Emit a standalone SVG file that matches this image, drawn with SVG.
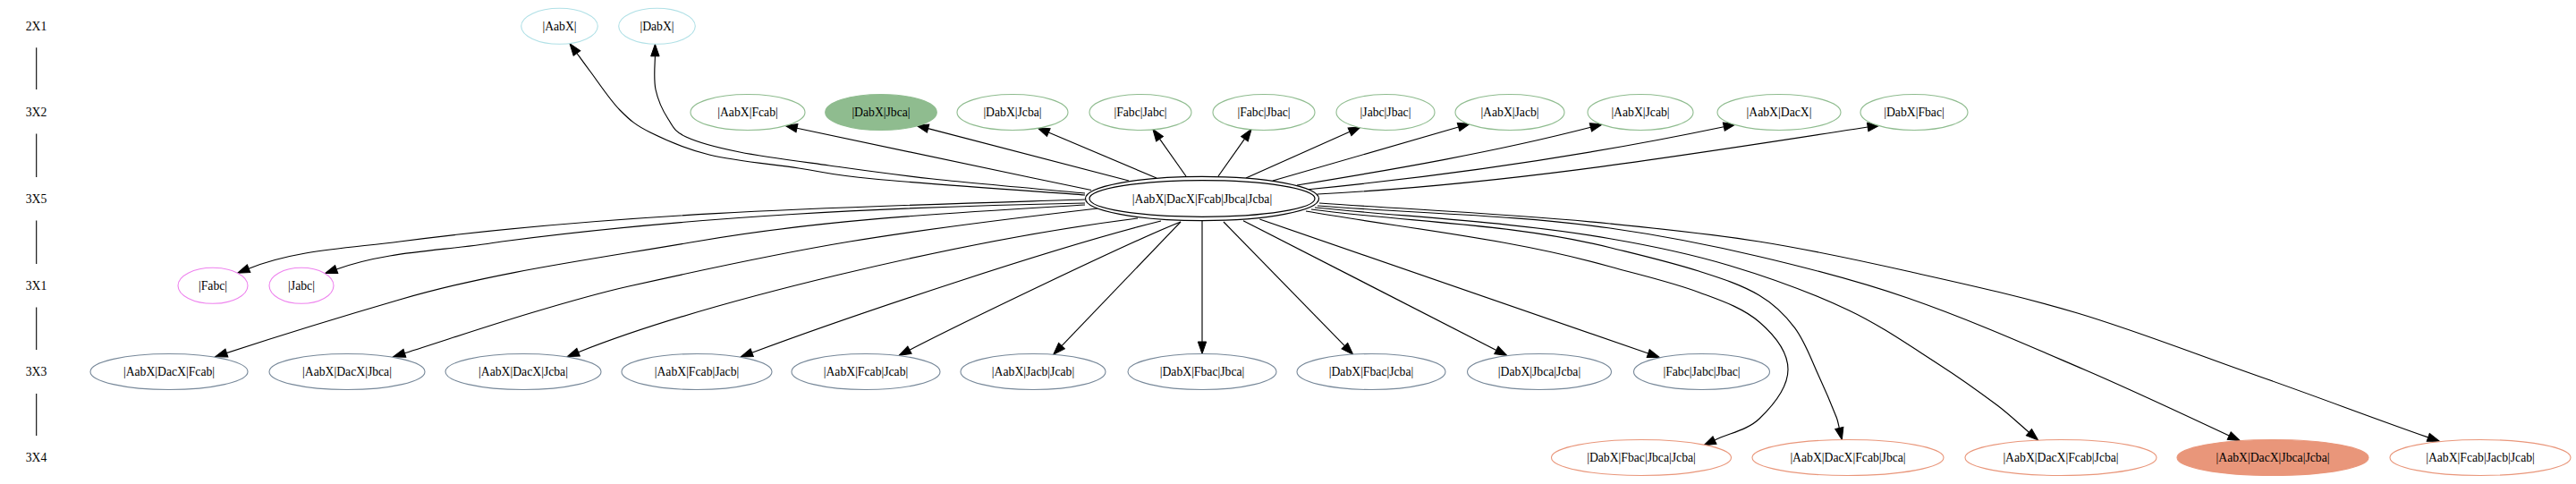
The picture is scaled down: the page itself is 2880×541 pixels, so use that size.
<svg xmlns="http://www.w3.org/2000/svg" width="2880" height="541" viewBox="0 0 2880 541">
<style>
text{font-family:"Liberation Serif","Times New Roman",serif;font-size:13.7px;text-anchor:middle;fill:#000}
.e{fill:none;stroke:#000;stroke-width:1.15}
.rl{stroke:#000;stroke-width:1.1}
.c21{fill:#fff;stroke:#b0e0e6;stroke-width:1.1}
.c32{fill:#fff;stroke:#8fbc8f;stroke-width:1.1}
.c32f{fill:#8fbc8f;stroke:#8fbc8f;stroke-width:1.1}
.c31{fill:#fff;stroke:#ee82ee;stroke-width:1.1}
.c33{fill:#fff;stroke:#778899;stroke-width:1.1}
.c34{fill:#fff;stroke:#e9967a;stroke-width:1.1}
.c34f{fill:#e9967a;stroke:#e9967a;stroke-width:1.1}
.c35{fill:#fff;stroke:#000;stroke-width:1.2}
</style>
<defs>
<marker id="ah" markerWidth="14" markerHeight="10" refX="0" refY="5" orient="auto" markerUnits="userSpaceOnUse" style="overflow:visible">
<path d="M0,0.3 L13.5,5 L0,9.7 z" fill="#000" stroke="#000" stroke-width="1"/>
</marker>
</defs>
<rect x="0" y="0" width="2880" height="541" fill="#fff"/>
<g id="ranks">
<text x="40.5" y="33.9">2X1</text>
<text x="40.5" y="130.1">3X2</text>
<text x="40.5" y="226.6">3X5</text>
<text x="40.5" y="323.9">3X1</text>
<text x="40.5" y="420.1">3X3</text>
<text x="40.5" y="516.1">3X4</text>
<line class="rl" x1="40.7" y1="53.3" x2="40.7" y2="100"/>
<line class="rl" x1="40.7" y1="149.5" x2="40.7" y2="198"/>
<line class="rl" x1="40.7" y1="246.5" x2="40.7" y2="295"/>
<line class="rl" x1="40.7" y1="343.5" x2="40.7" y2="391"/>
<line class="rl" x1="40.7" y1="440" x2="40.7" y2="487"/>
</g>
<g id="connectors">
<path class="e" marker-end="url(#ah)" d="M1213,218 C1173.7,215 1030.3,205 977,200 C923.7,195 923.7,192.5 893,188 C862.3,183.5 820.7,179.7 793,173 C765.3,166.3 743.7,156.3 727,148 C710.3,139.7 704.2,134.3 693,123 C681.8,111.7 668,90.6 660,80 C652,69.4 647.5,62.9 645,59.5"/>
<path class="e" marker-end="url(#ah)" d="M1213,216 C1184.7,213.3 1090.7,205.2 1043,200 C995.3,194.8 963,190 927,185 C891,180 853.7,175.3 827,170 C800.3,164.7 780.3,159.2 767,153 C753.7,146.8 752.7,141.8 747,133 C741.3,124.2 735.5,111.7 733,100 C730.5,88.3 732.4,69.2 732.4,62.8"/>
<path class="e" marker-end="url(#ah)" d="M1220,212.5 C1110,190 1000,166 891,143.2"/>
<path class="e" marker-end="url(#ah)" d="M1262,202 L1037.6,143.6"/>
<path class="e" marker-end="url(#ah)" d="M1293,199 L1172.3,148"/>
<path class="e" marker-end="url(#ah)" d="M1326,197 L1296.6,155.3"/>
<path class="e" marker-end="url(#ah)" d="M1362,197 L1391.4,155.3"/>
<path class="e" marker-end="url(#ah)" d="M1393,199 L1509,147.3"/>
<path class="e" marker-end="url(#ah)" d="M1423,202 L1630.6,142"/>
<path class="e" marker-end="url(#ah)" d="M1450,207 C1558.6,189.3 1672,169.8 1778.4,142.3"/>
<path class="e" marker-end="url(#ah)" d="M1460,212 C1619,196.3 1770.7,174.5 1927.3,141.7"/>
<path class="e" marker-end="url(#ah)" d="M1473,217 C1683,206 1880.7,174.1 2088.2,142"/>
<path class="e" marker-end="url(#ah)" d="M1213,223 C957.8,231 700.1,236.8 447,270 C390.4,277.4 331.2,279 278.1,300.2"/>
<path class="e" marker-end="url(#ah)" d="M1213,227 C995.2,231.4 776.6,241.7 561,270 C499.4,280.6 435,279.75 376.2,301"/>
<path class="e" marker-end="url(#ah)" d="M1213,229 C1067.6,237.7 921.5,245.2 778,270 C667.1,289.1 554.7,303.5 446.6,335 C381.4,354 317.9,373.5 253.4,394.5"/>
<path class="e" marker-end="url(#ah)" d="M1227,233 C1134.7,243.7 1041.9,254.7 950,270 C867.2,283.8 785,301.6 703,320 C665.9,328.3 629.4,339.1 593,350 C545.9,364.1 499.3,379.9 452.4,394.8"/>
<path class="e" marker-end="url(#ah)" d="M1272,244 C1073.6,268.8 786,338 646.6,393.7"/>
<path class="e" marker-end="url(#ah)" d="M1298,247 C1181.5,275.7 953,352.4 840.7,394.2"/>
<path class="e" marker-end="url(#ah)" d="M1320,248 C1264,270 1070,363.7 1017,391.2"/>
<path class="e" marker-end="url(#ah)" d="M1320,248 L1187,386.6"/>
<path class="e" marker-end="url(#ah)" d="M1344,246.6 L1344,382"/>
<path class="e" marker-end="url(#ah)" d="M1368,248 L1503.4,386.7"/>
<path class="e" marker-end="url(#ah)" d="M1390,246.7 L1672.9,391.4"/>
<path class="e" marker-end="url(#ah)" d="M1408.3,245 L1842.7,395"/>
<path class="e" marker-end="url(#ah)" d="M1460,236 C1573.5,255.6 1689.4,266.9 1800,298 C1833.3,307.4 1867.5,314.9 1900,327 C1923.3,335.7 1948.2,343.7 1967,360 C1982.6,373.5 1999,392.4 1999,413 C1999,434.2 1982.3,453.3 1967,468 C1953.7,480.8 1933.7,484 1917,492"/>
<path class="e" marker-end="url(#ah)" d="M1466,234 C1577.1,248.6 1691.2,249.8 1800,276.7 C1833.5,285 1867.2,292.8 1900,303.3 C1922.8,310.6 1946.1,317.8 1966.7,330 C1982.3,339.2 1995.9,352.1 2006.7,366.7 C2018.5,382.7 2024.9,402 2033.3,420 C2040.4,435.3 2047.1,451 2053.3,466.7 C2054.8,470.4 2055.4,474.5 2056.3,478.4"/>
<path class="e" marker-end="url(#ah)" d="M1470,232 C1580,243 1691.1,247.9 1800,266.7 C1844.8,274.4 1889.7,283.6 1933.3,296.7 C1978.8,310.3 2023.7,326.5 2066.7,346.7 C2101.9,363.3 2133.9,385.7 2166.7,406.7 C2189.5,421.3 2211.6,437 2233.3,453.3 C2245.5,462.5 2256.8,473.3 2268.4,483.2"/>
<path class="e" marker-end="url(#ah)" d="M1473,230 C1581.8,238.7 1691.8,239.7 1800,255 C1855.9,262.9 1911.7,273.8 1966.7,286.7 C2022.8,299.9 2078.8,314.4 2133.3,333.3 C2200.2,356.5 2264.9,385.1 2330,413 C2384.6,436.4 2438.4,461.9 2492.2,487"/>
<path class="e" marker-end="url(#ah)" d="M1475,227 C1583.2,234.6 1692.2,239.1 1800,250 C1855.6,255.6 1911.4,261.2 1966.7,270 C2022.6,278.9 2078.1,290.9 2133.3,303.3 C2196.7,317.5 2260.4,331.4 2322.7,350 C2390.6,370.3 2456.8,396.7 2523.7,420 C2587.6,442.3 2650.8,466.6 2714.7,488.9"/>
</g>
<g id="n_AabX"><ellipse class="c21" cx="625.5" cy="29.3" rx="42.8" ry="20"/><text x="625.5" y="33.9">|AabX|</text></g>
<g id="n_DabX"><ellipse class="c21" cx="734.5" cy="29.3" rx="42.8" ry="20"/><text x="734.5" y="33.9">|DabX|</text></g>
<g id="n_AabX_Fcab"><ellipse class="c32" cx="836" cy="125.5" rx="64" ry="20"/><text x="836" y="130.1">|AabX|Fcab|</text></g>
<g id="n_DabX_Jbca"><ellipse class="c32f" cx="985" cy="125.5" rx="62.3" ry="20"/><text x="985" y="130.1">|DabX|Jbca|</text></g>
<g id="n_DabX_Jcba"><ellipse class="c32" cx="1132" cy="125.5" rx="62" ry="20"/><text x="1132" y="130.1">|DabX|Jcba|</text></g>
<g id="n_Fabc_Jabc"><ellipse class="c32" cx="1275" cy="125.5" rx="57" ry="20"/><text x="1275" y="130.1">|Fabc|Jabc|</text></g>
<g id="n_Fabc_Jbac"><ellipse class="c32" cx="1413" cy="125.5" rx="57" ry="20"/><text x="1413" y="130.1">|Fabc|Jbac|</text></g>
<g id="n_Jabc_Jbac"><ellipse class="c32" cx="1549" cy="125.5" rx="55" ry="20"/><text x="1549" y="130.1">|Jabc|Jbac|</text></g>
<g id="n_AabX_Jacb"><ellipse class="c32" cx="1688" cy="125.5" rx="61" ry="20"/><text x="1688" y="130.1">|AabX|Jacb|</text></g>
<g id="n_AabX_Jcab"><ellipse class="c32" cx="1834" cy="125.5" rx="59" ry="20"/><text x="1834" y="130.1">|AabX|Jcab|</text></g>
<g id="n_AabX_DacX"><ellipse class="c32" cx="1989" cy="125.5" rx="69" ry="20"/><text x="1989" y="130.1">|AabX|DacX|</text></g>
<g id="n_DabX_Fbac"><ellipse class="c32" cx="2140" cy="125.5" rx="60" ry="20"/><text x="2140" y="130.1">|DabX|Fbac|</text></g>
<g id="n_center"><ellipse class="c35" cx="1344" cy="222" rx="130.5" ry="24.6"/><ellipse class="c35" cx="1344" cy="222" rx="126" ry="20.3"/><text x="1344" y="226.6">|AabX|DacX|Fcab|Jbca|Jcba|</text></g>
<g id="n_Fabc"><ellipse class="c31" cx="238" cy="319.3" rx="39" ry="20"/><text x="238" y="323.9">|Fabc|</text></g>
<g id="n_Jabc"><ellipse class="c31" cx="337" cy="319.3" rx="36" ry="20"/><text x="337" y="323.9">|Jabc|</text></g>
<g id="n_AabX_DacX_Fcab"><ellipse class="c33" cx="189" cy="415.5" rx="88" ry="20"/><text x="189" y="420.1">|AabX|DacX|Fcab|</text></g>
<g id="n_AabX_DacX_Jbca"><ellipse class="c33" cx="388" cy="415.5" rx="87" ry="20"/><text x="388" y="420.1">|AabX|DacX|Jbca|</text></g>
<g id="n_AabX_DacX_Jcba"><ellipse class="c33" cx="585" cy="415.5" rx="87" ry="20"/><text x="585" y="420.1">|AabX|DacX|Jcba|</text></g>
<g id="n_AabX_Fcab_Jacb"><ellipse class="c33" cx="779" cy="415.5" rx="84" ry="20"/><text x="779" y="420.1">|AabX|Fcab|Jacb|</text></g>
<g id="n_AabX_Fcab_Jcab"><ellipse class="c33" cx="968" cy="415.5" rx="83" ry="20"/><text x="968" y="420.1">|AabX|Fcab|Jcab|</text></g>
<g id="n_AabX_Jacb_Jcab"><ellipse class="c33" cx="1155" cy="415.5" rx="81" ry="20"/><text x="1155" y="420.1">|AabX|Jacb|Jcab|</text></g>
<g id="n_DabX_Fbac_Jbca"><ellipse class="c33" cx="1344" cy="415.5" rx="83" ry="20"/><text x="1344" y="420.1">|DabX|Fbac|Jbca|</text></g>
<g id="n_DabX_Fbac_Jcba"><ellipse class="c33" cx="1533" cy="415.5" rx="83" ry="20"/><text x="1533" y="420.1">|DabX|Fbac|Jcba|</text></g>
<g id="n_DabX_Jbca_Jcba"><ellipse class="c33" cx="1721" cy="415.5" rx="80.5" ry="20"/><text x="1721" y="420.1">|DabX|Jbca|Jcba|</text></g>
<g id="n_Fabc_Jabc_Jbac"><ellipse class="c33" cx="1902.5" cy="415.5" rx="76" ry="20"/><text x="1902.5" y="420.1">|Fabc|Jabc|Jbac|</text></g>
<g id="n_DabX_Fbac_Jbca_Jcba"><ellipse class="c34" cx="1835" cy="511.5" rx="100.5" ry="20"/><text x="1835" y="516.1">|DabX|Fbac|Jbca|Jcba|</text></g>
<g id="n_AabX_DacX_Fcab_Jbca"><ellipse class="c34" cx="2066" cy="511.5" rx="107" ry="20"/><text x="2066" y="516.1">|AabX|DacX|Fcab|Jbca|</text></g>
<g id="n_AabX_DacX_Fcab_Jcba"><ellipse class="c34" cx="2304" cy="511.5" rx="107" ry="20"/><text x="2304" y="516.1">|AabX|DacX|Fcab|Jcba|</text></g>
<g id="n_AabX_DacX_Jbca_Jcba"><ellipse class="c34f" cx="2541" cy="511.5" rx="107" ry="20"/><text x="2541" y="516.1">|AabX|DacX|Jbca|Jcba|</text></g>
<g id="n_AabX_Fcab_Jacb_Jcab"><ellipse class="c34" cx="2773" cy="511.5" rx="101" ry="20"/><text x="2773" y="516.1">|AabX|Fcab|Jacb|Jcab|</text></g>
</svg>
